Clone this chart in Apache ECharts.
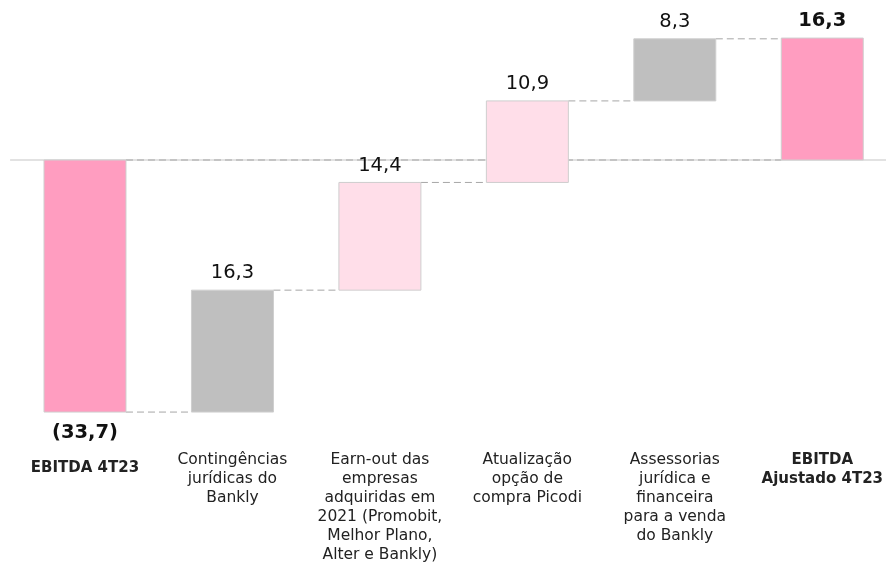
<!DOCTYPE html>
<html><head><meta charset="utf-8">
<script src="https://cdn.jsdelivr.net/npm/echarts@6/dist/echarts.min.js"></script>
<style>html,body{margin:0;padding:0;background:#fff}#c{width:886px;height:577px}</style>
</head><body><div id="c"></div>
<script>
const categories = [
  "EBITDA 4T23",
  "Contingências\njurídicas do\nBankly",
  "Earn-out das\nempresas\nadquiridas em\n2021 (Promobit,\nMelhor Plano,\nAlter e Bankly)",
  "Atualização\nopção de\ncompra Picodi",
  "Assessorias\njurídica e\nfinanceira\npara a venda\ndo Bankly",
  "EBITDA\nAjustado 4T23"
];
const values = [-33.7, 16.3, 14.4, 10.9, 8.3, 16.3];
const kinds = ["total", "delta", "delta", "delta", "delta", "total"];
const valueLabels = ["(33,7)", "16,3", "14,4", "10,9", "8,3", "16,3"];

const barColors = ["#FF9DC0", "#BFBFBF", "#FFDEE9", "#FFDEE9", "#BFBFBF", "#FF9DC0"];

// build waterfall segments
let run = 0;
const bars = [];
values.forEach((v, i) => {
  let lo, hi;
  if (kinds[i] === "total") { lo = Math.min(0, v); hi = Math.max(0, v); run = v; }
  else { lo = run; hi = run + v; run = hi; }
  bars.push([i, lo, hi, v]);
});
// connectors: end level of bar i to next bar
const connectors = [];
for (let i = 0; i < bars.length - 1; i++) {
  const lvl = values[i] < 0 && kinds[i] === "total" ? bars[i][1] : bars[i][2];
  connectors.push([i, i + 1, lvl]);
}
connectors.push([0, 5, 0]);

const FONT = "'DejaVu Sans'";
const chart = echarts.init(document.getElementById('c'));
chart.setOption({
  animation: false,
  grid: {left: 85, width: 738, top: 10.4, height: 411.4},
  xAxis: {
    type: 'category', boundaryGap: false,
    data: categories.map((c, i) => (i === 0 || i === 5) ? {value: c, textStyle: {fontWeight: 'bold', fontSize: 15, padding: i === 0 ? [8, 0, 0, 0] : 0}} : c),
    axisLine: {show: false}, axisTick: {show: false},
    axisLabel: {interval: 0, color: '#222', fontFamily: FONT, fontSize: 15.5, lineHeight: 19, margin: 29}
  },
  yAxis: {type: 'value', min: -35, max: 20, show: false, splitLine: {show: false}},
  series: [
    {
      type: 'custom', coordinateSystem: 'cartesian2d', data: [[0]], z: 0, clip: false,
      renderItem: (params, api) => {
        const a = api.coord([0, 0]);
        const step = api.size([1, 0])[0];
        return {type: 'line', shape: {x1: a[0] - step * 0.508, y1: a[1], x2: a[0] + step * 6, y2: a[1]},
          style: {stroke: '#D9D9D9', lineWidth: 1.5}};
      }
    },
    {
      type: 'custom', coordinateSystem: 'cartesian2d', data: connectors, z: 1, clip: false,
      renderItem: (params, api) => {
        const w = api.size([1, 0])[0] * 0.556;
        const a = api.coord([api.value(0), api.value(2)]);
        const b = api.coord([api.value(1), api.value(2)]);
        return {type: 'line', shape: {x1: a[0] + w / 2, y1: a[1], x2: b[0] - w / 2, y2: b[1]},
          style: {stroke: '#A6A6A6', lineWidth: 1, lineDash: [7, 4]}};
      }
    },
    {
      type: 'custom', coordinateSystem: 'cartesian2d', data: bars, z: 2, clip: false,
      renderItem: (params, api) => {
        const i = api.value(0);
        const w = api.size([1, 0])[0] * 0.556;
        const top = api.coord([i, api.value(2)]);
        const bot = api.coord([i, api.value(1)]);
        const v = api.value(3);
        const bold = kinds[i] === 'total';
        const neg = v < 0;
        return {type: 'group', children: [
          {type: 'rect', shape: {x: top[0] - w / 2, y: top[1], width: w, height: bot[1] - top[1]},
            style: {fill: barColors[i], stroke: '#CFCFCF', lineWidth: 1}},
          {type: 'text', x: top[0], y: neg ? bot[1] + 21 : top[1] - 17,
            style: {text: valueLabels[i], fill: '#111', font: (bold ? 'bold ' : '') + '19.5px ' + FONT, align: 'center', verticalAlign: 'middle'}}
        ]};
      }
    }
  ]
});
</script></body></html>
